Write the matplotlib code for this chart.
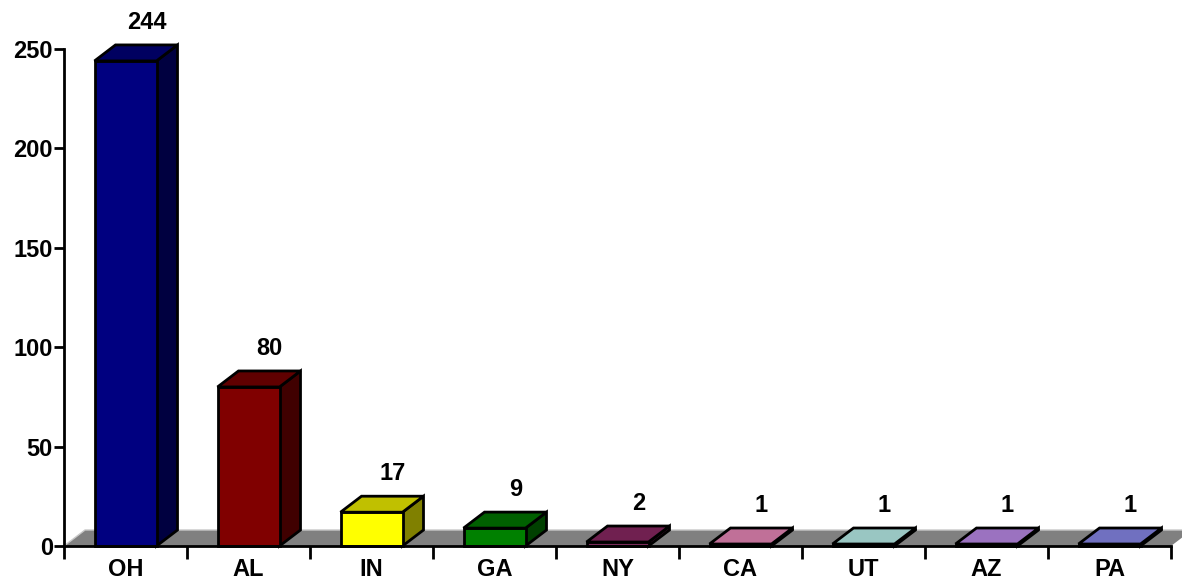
import matplotlib
matplotlib.use("Agg")
import matplotlib.pyplot as plt
from matplotlib.patches import Polygon, Rectangle

# data
states = ["OH", "AL", "IN", "GA", "NY", "CA", "UT", "AZ", "PA"]
counts = [244, 80, 17, 9, 2, 1, 1, 1, 1]
yticks = [0, 50, 100, 150, 200, 250]

# colours: front face, top face, side face
front_colors = ["#000080", "#800000", "#FFFF00", "#008000", "#7A2A5A",
                "#C87898", "#A0CCC8", "#A07CC8", "#7878C8"]
top_colors = ["#000060", "#600000", "#C0C000", "#006000", "#702050",
              "#C07098", "#99C6C2", "#9B72C0", "#7070C0"]
side_colors = ["#000040", "#400000", "#808000", "#004000", "#501838",
               "#905070", "#709090", "#705090", "#505090"]

plt.rcParams['font.family'] = ['Liberation Sans', 'DejaVu Sans']

W, H = 1182, 582
fig = plt.figure(figsize=(W / 100, H / 100), dpi=100)
ax = fig.add_axes([64 / W, 36 / H, (1171 - 64) / W, 497 / H])

n = len(states)
ymax = 250
ax.set_xlim(0, n)
ax.set_ylim(0, ymax)

# depth of the fake 3d in data units (21 px right, 16 px up)
px_x = (1171 - 64) / n
px_y = 497 / ymax
dx = 21 / px_x
dy = 16 / px_y
bw = 62 / px_x

# floor
floor = Polygon([(0, 0), (n, 0), (n + dx, dy), (dx, dy)], closed=True,
                facecolor="#808080", edgecolor="none", clip_on=False, zorder=1)
ax.add_patch(floor)
ax.plot([0, dx, n + dx + 0.2], [0, dy, dy], color="#C8C8C8", lw=1,
        clip_on=False, zorder=1)

for i, v in enumerate(counts):
    x0 = i + 0.5 - bw / 2
    front = Rectangle((x0, 0), bw, v, facecolor=front_colors[i],
                      edgecolor="black", lw=2, zorder=3, clip_on=False)
    top = Polygon([(x0, v), (x0 + bw, v), (x0 + bw + dx, v + dy), (x0 + dx, v + dy)],
                  closed=True, facecolor=top_colors[i], edgecolor="black",
                  lw=2, zorder=3, clip_on=False, joinstyle="miter")
    side = Polygon([(x0 + bw, 0), (x0 + bw + dx, dy), (x0 + bw + dx, v + dy), (x0 + bw, v)],
                   closed=True, facecolor=side_colors[i], edgecolor="black",
                   lw=2, zorder=3, clip_on=False, joinstyle="miter")
    ax.add_patch(side)
    ax.add_patch(front)
    ax.add_patch(top)
    ax.annotate(str(v), (x0 + bw / 2 + dx, v + dy), xytext=(0, 8),
                textcoords="offset points", ha="center", va="bottom",
                fontsize=17, fontweight="bold", annotation_clip=False)

# axes
for s in ["top", "right"]:
    ax.spines[s].set_visible(False)
ax.spines["left"].set_linewidth(2)
ax.spines["bottom"].set_linewidth(2)
ax.spines["bottom"].set_zorder(4)

ax.set_yticks(yticks)
ax.set_yticklabels([str(t) for t in yticks], fontsize=17, fontweight="bold")
ax.set_xticks(range(n + 1))
ax.set_xticklabels([])
ax.set_xticks([i + 0.5 for i in range(n)], minor=True)
ax.set_xticklabels(states, minor=True, fontsize=17, fontweight="bold")
ax.tick_params(axis="x", which="major", direction="out", length=9, width=2)
ax.tick_params(axis="x", which="minor", length=0, pad=9)
ax.tick_params(axis="y", direction="out", length=7, width=2, pad=1)
ax.patch.set_visible(False)

fig.savefig("out.png", dpi=100)
